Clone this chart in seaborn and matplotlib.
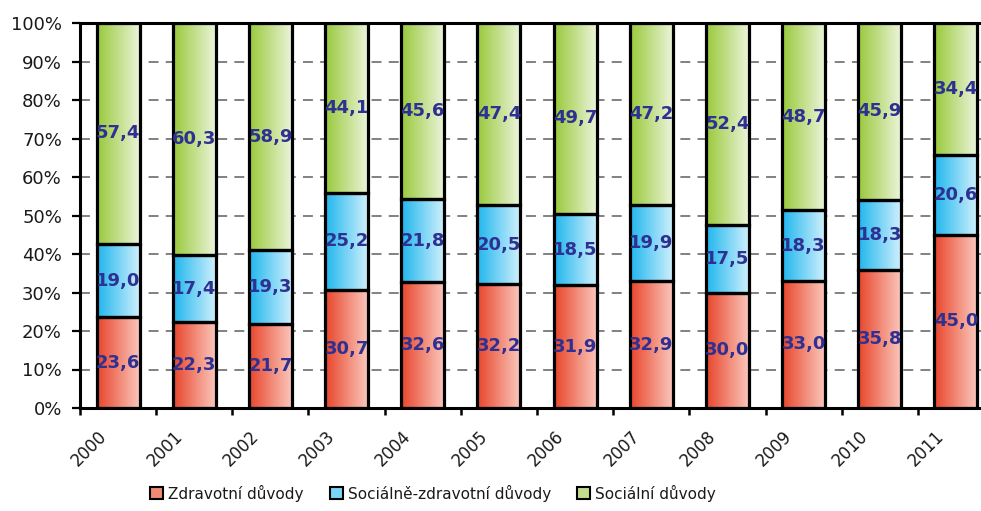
import numpy as np
import pandas as pd
import matplotlib
matplotlib.use("Agg")
import matplotlib.pyplot as plt
import matplotlib.transforms as mtransforms
from matplotlib.colors import LinearSegmentedColormap
from matplotlib.patches import Patch
from matplotlib.ticker import MultipleLocator, FixedLocator
import seaborn as sns

# Podíl důvodů (v %) podle let
years = ["2000", "2001", "2002", "2003", "2004", "2005",
         "2006", "2007", "2008", "2009", "2010", "2011"]
zdravotni = [23.6, 22.3, 21.7, 30.7, 32.6, 32.2, 31.9, 32.9, 30.0, 33.0, 35.8, 45.0]
soc_zdravotni = [19.0, 17.4, 19.3, 25.2, 21.8, 20.5, 18.5, 19.9, 17.5, 18.3, 18.3, 20.6]
socialni = [57.4, 60.3, 58.9, 44.1, 45.6, 47.4, 49.7, 47.2, 52.4, 48.7, 45.9, 34.4]

series_names = ["Zdravotní důvody", "Sociálně-zdravotní důvody", "Sociální důvody"]
# gradient (left -> right) for each series
gradients = [("#E8452B", "#FBCABF"), ("#1FB6EE", "#D3F1FC"), ("#98C93A", "#EEF5DE")]
legend_colors = ["#F08A72", "#7AD6F6", "#C2DE8A"]
label_color = "#2E3192"

df = pd.DataFrame({"rok": years, "z": zdravotni, "sz": soc_zdravotni, "s": socialni})
df["b_sz"] = df["z"]
df["b_s"] = df["z"] + df["sz"]

sns.set_style("white")
plt.rcParams["font.family"] = ["DejaVu Sans"]

fig = plt.figure(figsize=(9.81, 5.11), dpi=100)
ax = fig.add_axes([80 / 981, 1 - 408 / 511, 914 / 981, 385 / 511])

layers = [("z", None), ("sz", "b_sz"), ("s", "b_s")]
for col, bottom in layers:
    kw = {}
    if bottom is not None:
        kw["bottom"] = df[bottom].values
    sns.barplot(data=df, x="rok", y=col, ax=ax, width=0.565, color="white",
                edgecolor="black", linewidth=2.3, zorder=2, **kw)

# gradient fill inside each bar
grad = np.linspace(0, 1, 256).reshape(1, -1)
n = len(years)
for i, patch in enumerate(ax.patches):
    series = i // n
    cmap = LinearSegmentedColormap.from_list(f"g{series}", gradients[series])
    x0, y0 = patch.get_x(), patch.get_y()
    w, h = patch.get_width(), patch.get_height()
    im = ax.imshow(grad, extent=[x0, x0 + w, y0, y0 + h], aspect="auto",
                   cmap=cmap, zorder=1.5, interpolation="bilinear")
    im.set_clip_path(patch)
    patch.set_facecolor("none")

# value labels at the middle of each segment
for values, bottoms in [(zdravotni, [0] * n), (soc_zdravotni, df["b_sz"]), (socialni, df["b_s"])]:
    for i, (v, b) in enumerate(zip(values, bottoms)):
        ax.text(i, b + v / 2, f"{v:.1f}".replace(".", ","), ha="center", va="center",
                color=label_color, fontsize=13, fontweight="bold", zorder=4)

ax.set_xlim(-0.5, n - 0.5)
ax.set_ylim(0, 100)
ax.set_xlabel("")
ax.set_ylabel("")

# grid and axes styling
ax.set_axisbelow(True)
ax.yaxis.set_major_locator(MultipleLocator(10))
ax.yaxis.grid(True, color="#777777", linestyle=(0, (5.5, 4)), linewidth=1.3, zorder=0)
ax.set_yticks(np.arange(0, 101, 10))
ax.set_yticklabels([f"{t}%" for t in range(0, 101, 10)], fontsize=13, color="#1a1a1a")
ax.tick_params(axis="y", which="major", direction="out", length=6, width=1.6,
               color="black", pad=7, left=True)

ax.set_xticks(range(n))
ax.set_xticklabels(years, rotation=45, ha="right", va="top", fontsize=12, color="#1a1a1a")
ax.xaxis.set_minor_locator(FixedLocator(np.arange(-0.5, n, 1.0)))
ax.tick_params(axis="x", which="major", length=0, pad=14)
ax.tick_params(axis="x", which="minor", direction="out", length=5, width=1.8,
               color="black", bottom=True)
shift = mtransforms.ScaledTranslation(-8 / 100, 0, fig.dpi_scale_trans)
for lbl in ax.get_xticklabels():
    lbl.set_transform(lbl.get_transform() + shift)

for side in ["left", "bottom", "top"]:
    ax.spines[side].set_visible(True)
    ax.spines[side].set_color("black")
    ax.spines[side].set_linewidth(2.2)
ax.spines["right"].set_visible(False)

handles = [Patch(facecolor=c, edgecolor="black", linewidth=1.5, label=name)
           for c, name in zip(legend_colors, series_names)]
fig.legend(handles=handles, loc="center", bbox_to_anchor=(433 / 981, 1 - 493 / 511),
           ncol=3, frameon=False, fontsize=11, handlelength=0.85, handleheight=0.85,
           handletextpad=0.35, columnspacing=1.7, labelcolor="#1a1a1a")

fig.savefig("out.png", dpi=100)
